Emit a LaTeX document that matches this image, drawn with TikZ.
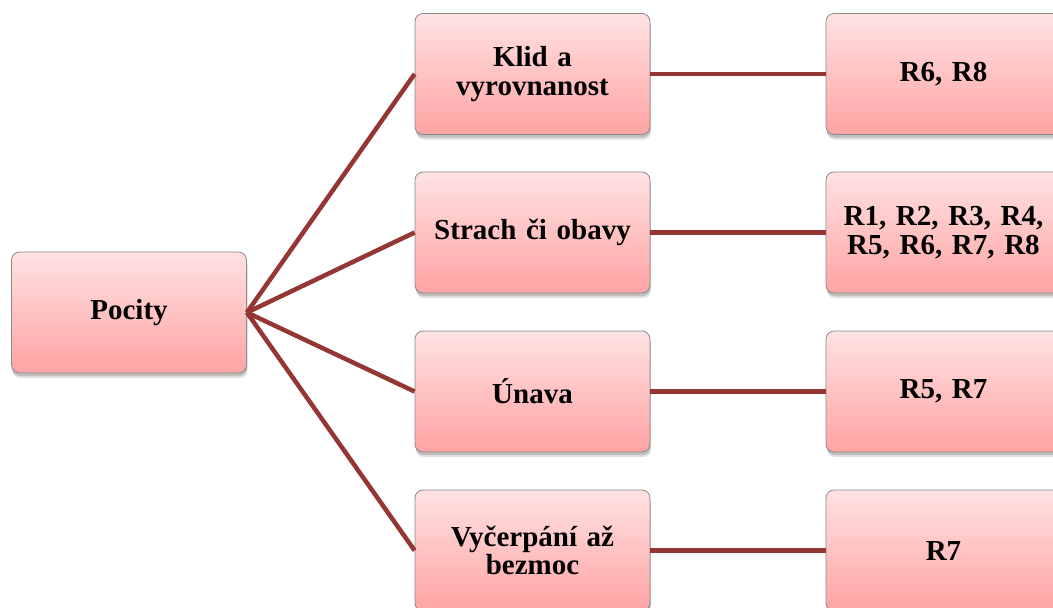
\documentclass[tikz,border=0pt]{standalone}
\usepackage{fontspec}
\setmainfont{Liberation Serif}
\usetikzlibrary{shadows}
\definecolor{linkred}{HTML}{943634}
\definecolor{boxtop}{HTML}{FFE2E2}
\definecolor{boxbot}{HTML}{FFA3A3}
\definecolor{boxline}{HTML}{8A8A8A}
\tikzset{
  card/.style={rectangle, rounded corners=8pt, draw=boxline, line width=0.8pt,
    top color=boxtop, bottom color=boxbot,
    minimum width=235pt, minimum height=121pt, text width=215pt, align=center,
    font=\fontsize{29}{28.5}\selectfont\bfseries, inner sep=0pt,
    drop shadow={shadow xshift=1pt, shadow yshift=-5pt, opacity=0.12, fill=black},
    drop shadow={shadow xshift=0.5pt, shadow yshift=-3pt, opacity=0.15, fill=black}},
  link/.style={draw=linkred, line width=4.5pt}
}
\begin{document}
\begin{tikzpicture}[x=1pt, y=-1pt]
  \useasboundingbox (0,0) rectangle (1053,608);
  % root
  \node[card] (root) at (129,312.5) {Pocity};
  % middle column
  \node[card] (m1) at (532.5,74) {Klid a\\vyrovnanost};
  \node[card] (m2) at (532.5,232.5) {Strach či obavy};
  \node[card] (m3) at (532.5,391.5) {Únava};
  \node[card] (m4) at (532.5,550.5) {Vyčerpání až\\bezmoc};
  % right column
  \node[card] (r1) at (943.5,74) {R6, R8};
  \node[card] (r2) at (943.5,232.5) {R1, R2, R3, R4,\\R5, R6, R7, R8};
  \node[card] (r3) at (943.5,391.5) {R5, R7};
  \node[card] (r4) at (943.5,550.5) {R7};
  % connectors
  \foreach \m in {m1,m2,m3,m4} \draw[link] (root.east) -- (\m.west);
  \draw[link] (m1.east) -- (r1.west);
  \draw[link] (m2.east) -- (r2.west);
  \draw[link] (m3.east) -- (r3.west);
  \draw[link] (m4.east) -- (r4.west);
\end{tikzpicture}
\end{document}
